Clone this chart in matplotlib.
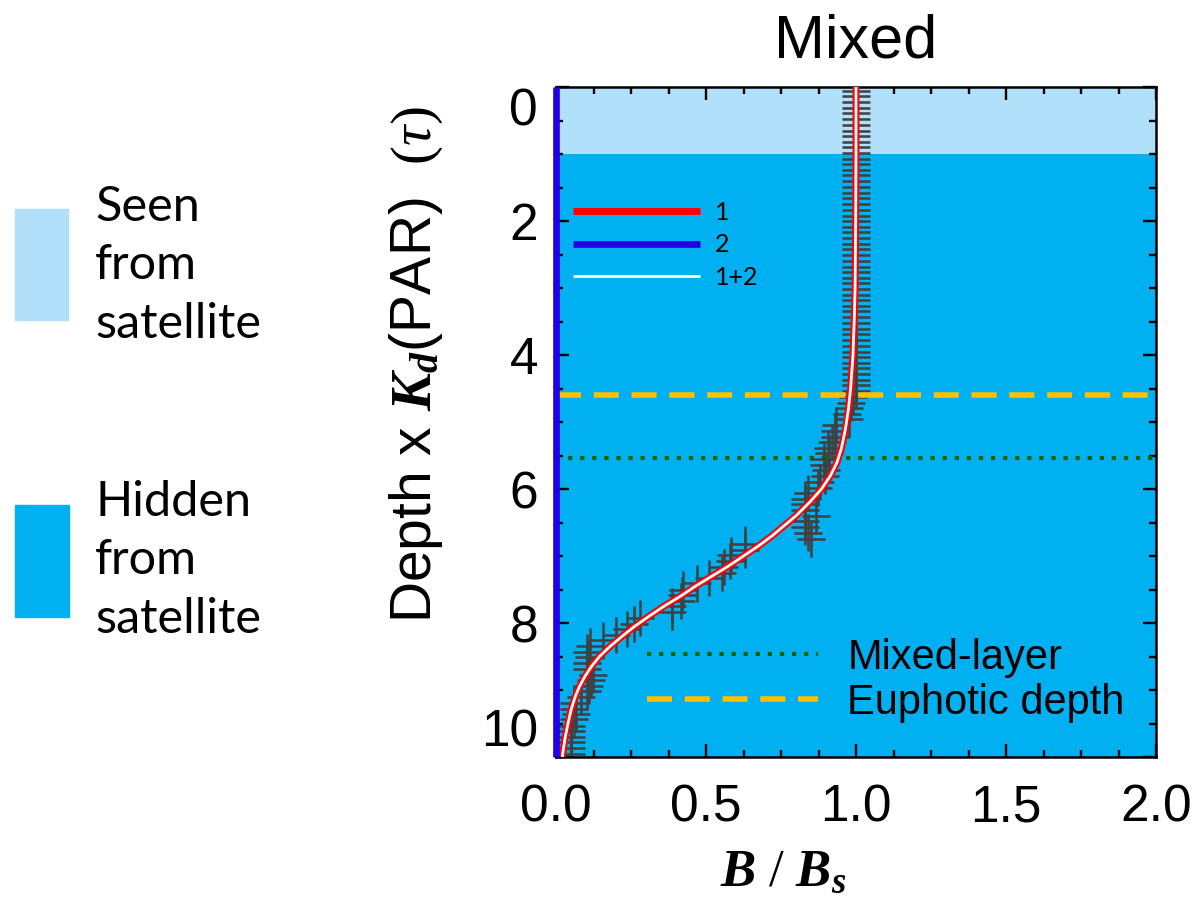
import matplotlib
matplotlib.use("Agg")
import matplotlib.pyplot as plt
from matplotlib.patches import Rectangle
from matplotlib.ticker import MultipleLocator

# optical depth of the measured profile points
tau_obs = [
    0.06, 0.14, 0.22, 0.31, 0.39, 0.48, 0.56, 0.65, 0.73, 0.82,
    0.90, 0.99, 1.07, 1.15, 1.24, 1.32, 1.41, 1.49, 1.58, 1.66,
    1.75, 1.83, 1.92, 2.00, 2.09, 2.17, 2.25, 2.34, 2.42, 2.51,
    2.59, 2.68, 2.76, 2.85, 2.93, 3.02, 3.10, 3.18, 3.27, 3.35,
    3.44, 3.52, 3.61, 3.69, 3.78, 3.86, 3.95, 4.03, 4.12, 4.20,
    4.29, 4.37, 4.45, 4.54, 4.62, 4.71, 4.79, 4.88, 4.96, 5.05,
    5.13, 5.22, 5.30, 5.39, 5.47, 5.55, 5.64, 5.72, 5.81, 5.89,
    5.98, 6.06, 6.15, 6.23, 6.32, 6.40, 6.48, 6.57, 6.65, 6.74,
    6.82, 6.91, 6.99, 7.08, 7.16, 7.25, 7.33, 7.41, 7.50, 7.58,
    7.67, 7.75, 7.84, 7.92, 8.01, 8.09, 8.18, 8.26, 8.35, 8.43,
    8.51, 8.60, 8.68, 8.77, 8.85, 8.94, 9.02, 9.11, 9.19, 9.28,
    9.36, 9.44, 9.53, 9.61, 9.70, 9.78, 9.87, 9.95,
]
# normalised biomass B/Bs at those depths
b_obs = [
    1.00, 1.00, 1.00, 1.00, 1.00, 1.00, 1.00, 1.00, 1.00, 1.00,
    1.00, 1.00, 1.00, 1.00, 1.00, 1.00, 1.00, 1.00, 1.00, 1.00,
    1.00, 1.00, 1.00, 1.00, 1.00, 1.00, 1.00, 1.00, 1.00, 1.00,
    1.00, 1.00, 1.00, 1.00, 1.00, 1.00, 1.00, 1.00, 1.00, 1.00,
    1.00, 1.00, 1.00, 1.00, 1.00, 1.00, 1.00, 1.00, 1.00, 1.00,
    1.00, 1.00, 1.00, 1.00, 0.99, 0.983, 0.977, 0.97, 0.975, 0.933,
    0.93, 0.93, 0.92, 0.907, 0.91, 0.893, 0.893, 0.90, 0.897, 0.88,
    0.873, 0.84, 0.83, 0.83, 0.83, 0.867, 0.83, 0.83, 0.84, 0.85,
    0.63, 0.63, 0.583, 0.58, 0.56, 0.553, 0.51, 0.47, 0.423, 0.42,
    0.417, 0.387, 0.387, 0.28, 0.26, 0.237, 0.20, 0.157, 0.113, 0.103,
    0.11, 0.103, 0.103, 0.123, 0.117, 0.11, 0.103, 0.083, 0.06, 0.06,
    0.067, 0.06, 0.05, 0.05, 0.05, 0.05, 0.05, 0.05,
]
b_err = 0.047
tau_err = 0.27

# fitted profile: component 1 (red), component 2 (blue)
tau_fit = [0.0, 1.0, 2.0, 3.0, 3.5, 4.0, 4.5, 4.8, 5.1, 5.4, 5.6, 5.8, 6.0,
           6.2, 6.4, 6.55, 6.7, 6.85, 7.0, 7.15, 7.3, 7.45, 7.6, 7.75, 7.9,
           8.05, 8.2, 8.35, 8.5, 8.65, 8.8, 8.95, 9.1, 9.3, 9.5, 9.7, 9.9, 10.0]
b_comp1 = [1.0, 1.0, 0.999, 0.997, 0.994, 0.99, 0.982, 0.975, 0.965, 0.951,
           0.937, 0.915, 0.885, 0.845, 0.80, 0.76, 0.72, 0.675, 0.625, 0.575,
           0.52, 0.465, 0.415, 0.36, 0.31, 0.262, 0.22, 0.18, 0.145, 0.118,
           0.096, 0.078, 0.064, 0.05, 0.04, 0.031, 0.024, 0.021]
b_comp2 = [0.0] * len(tau_fit)
b_total = [a + b for a, b in zip(b_comp1, b_comp2)]

seen_depth = 1.0
euphotic_depth = 4.6
mixed_layer_depth = 5.53
max_depth = 10.0

x_ticks = [0.0, 0.5, 1.0, 1.5, 2.0]
x_tick_labels = ["0.0", "0.5", "1.0", "1.5", "2.0"]
y_ticks = [0, 2, 4, 6, 8, 10]

LIGHT = "#B0E0FA"
DARK = "#00B0F0"
GREY = "#404040"

plt.rcParams["font.family"] = ["Liberation Sans", "DejaVu Sans"]
plt.rcParams["mathtext.fontset"] = "custom"
plt.rcParams["mathtext.rm"] = "Liberation Serif"
plt.rcParams["mathtext.it"] = "Liberation Serif:italic"
plt.rcParams["mathtext.bf"] = "Liberation Serif:bold:italic"

W, H = 1199, 897
fig = plt.figure(figsize=(W / 100, H / 100), dpi=100)
ax = fig.add_axes([556 / W, 1 - 757 / H, 600 / W, 670 / H])

ax.axhspan(0, seen_depth, color=LIGHT, zorder=0, lw=0)
ax.axhspan(seen_depth, max_depth, color=DARK, zorder=0, lw=0)

ax.errorbar(b_obs, tau_obs, xerr=b_err, yerr=tau_err, fmt="none",
            ecolor=GREY, elinewidth=1.8, capsize=0, zorder=2)

ml, = ax.plot([0, 2], [mixed_layer_depth] * 2, color="#006400", lw=3,
              linestyle=(0, (1, 1.9)), zorder=2.5, label="Mixed-layer")
eu, = ax.plot([0, 2], [euphotic_depth] * 2, color="#FFC000", lw=4,
              linestyle=(0, (4.5, 2.3)), zorder=2.5, label="Euphotic depth")

l1, = ax.plot(b_comp1, tau_fit, color="#FF0000", lw=5, zorder=3,
              solid_capstyle="butt", label="1")
l3, = ax.plot(b_total, tau_fit, color="white", lw=2.0, zorder=4,
              solid_capstyle="butt", label="1+2")
l2, = ax.plot(b_comp2, tau_fit, color="#2200E8", lw=4.8, zorder=5,
              clip_on=False, solid_capstyle="butt", label="2")

ax.set_xlim(0, 2)
ax.set_ylim(max_depth, 0)
ax.set_xticks(x_ticks)
ax.set_xticklabels(x_tick_labels)
ax.set_yticks(y_ticks)
ax.xaxis.set_minor_locator(MultipleLocator(0.125))
ax.yaxis.set_minor_locator(MultipleLocator(0.5))
ax.tick_params(which="both", direction="in", top=True, right=True,
               width=1.7, color="black", labelsize=37)
ax.tick_params(which="major", length=9.4)
ax.tick_params(which="minor", length=5)
ax.tick_params(axis="x", pad=19)
ax.tick_params(axis="y", pad=13)
for sp in ax.spines.values():
    sp.set_linewidth(1.8)

yt = ax.yaxis.get_major_ticks()
yt[0].label1.set_verticalalignment("top")
yt[-1].label1.set_verticalalignment("bottom")

ax.set_title("Mixed", fontsize=44, pad=21.6)
ax.set_ylabel(r"Depth x $\mathbf{K_d}$(PAR)  $(\tau)$", fontsize=41)
ax.yaxis.set_label_coords(-0.185, 0.585)
ax.set_xlabel(r"$\mathbf{B}\ /\ \mathbf{B_s}$", fontsize=38)
ax.xaxis.set_label_coords(0.378, -0.134)

leg1 = ax.legend(handles=[l1, l2, l3], loc="upper left",
                 bbox_to_anchor=(0.028, 0.83), frameon=False,
                 prop={"family": "Lato", "size": 18}, handlelength=5.08,
                 handletextpad=0.6, labelspacing=0.38, borderpad=0,
                 borderaxespad=0)
ax.add_artist(leg1)
ax.legend(handles=[ml, eu], loc="upper left", bbox_to_anchor=(0.152, 0.178),
          frameon=False, fontsize=30, handlelength=4.1, handletextpad=0.7,
          labelspacing=0.12, borderpad=0, borderaxespad=0)

# side key for the shaded regions
fig.patches.append(Rectangle((15 / W, 1 - 320 / H), 53 / W, 111 / H,
                             transform=fig.transFigure, color=LIGHT))
fig.patches.append(Rectangle((15 / W, 1 - 617 / H), 54 / W, 112 / H,
                             transform=fig.transFigure, color=DARK))
fig.text(95 / W, 1 - 185 / H, "Seen\nfrom\nsatellite", family="Lato",
         fontsize=35, va="top", ha="left", linespacing=1.4)
fig.text(95 / W, 1 - 480 / H, "Hidden\nfrom\nsatellite", family="Lato",
         fontsize=35, va="top", ha="left", linespacing=1.4)

fig.savefig("out.png", dpi=100)
